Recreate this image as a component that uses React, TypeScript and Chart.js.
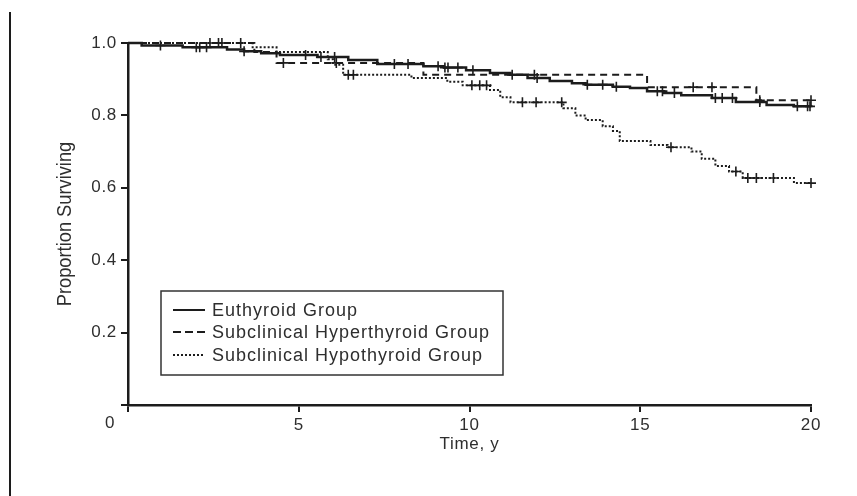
import React, { useEffect, useRef } from 'react';
import { Chart, registerables } from 'chart.js';
Chart.register(...registerables);

// Kaplan-Meier step curves: time (years) at which survival drops to value
const euTimes = [0, 0.4, 1.6, 2.9, 3.4, 3.9, 4.45, 5.55, 6.45, 7.3, 8.65, 9.25, 9.9, 10.6, 11.2, 11.7, 12.35, 13.0, 13.4, 14.2, 14.7, 15.2, 15.7, 16.2, 17.1, 17.8, 18.7, 19.5, 20];
const euSurv = [1.0, 0.993, 0.988, 0.982, 0.977, 0.972, 0.967, 0.961, 0.953, 0.942, 0.936, 0.932, 0.925, 0.917, 0.912, 0.903, 0.895, 0.889, 0.885, 0.879, 0.876, 0.867, 0.862, 0.856, 0.848, 0.837, 0.829, 0.825, 0.823];

const hyperTimes = [0, 3.7, 4.35, 8.65, 15.2, 18.4, 20];
const hyperSurv = [1.0, 0.975, 0.945, 0.912, 0.878, 0.842, 0.842];

const hypoTimes = [0, 3.65, 4.35, 5.85, 6.0, 6.3, 8.3, 9.35, 9.8, 10.6, 10.9, 11.2, 12.75, 13.1, 13.4, 13.9, 14.2, 14.4, 15.3, 15.8, 16.5, 16.8, 17.2, 17.6, 18.0, 19.5, 20];
const hypoSurv = [1.0, 0.988, 0.975, 0.955, 0.94, 0.912, 0.903, 0.893, 0.883, 0.87, 0.85, 0.836, 0.82, 0.8, 0.787, 0.77, 0.757, 0.729, 0.718, 0.712, 0.7, 0.68, 0.66, 0.645, 0.627, 0.613, 0.613];

// Censoring times (plotted as + marks on each curve)
const euCensored = [0.95, 2.0, 2.1, 2.3, 3.4, 5.2, 5.65, 6.05, 7.8, 8.2, 9.08, 9.28, 9.37, 9.66, 10.1, 11.25, 11.98, 13.45, 13.9, 14.3, 15.5, 15.65, 16.0, 17.2, 17.4, 17.7, 18.5, 19.6, 19.9, 19.97];
const hyperCensored = [4.55, 6.1, 11.9, 16.55, 17.1, 18.5, 20.0];
const hypoCensored = [2.4, 2.65, 2.75, 3.3, 6.45, 6.6, 10.07, 10.3, 10.5, 11.55, 11.95, 12.7, 15.9, 17.8, 18.15, 18.4, 18.9, 20.0];

const seriesNames = ['Euthyroid Group', 'Subclinical Hyperthyroid Group', 'Subclinical Hypothyroid Group'];
const xTicks = [0, 5, 10, 15, 20];
const yTicks = [0, 0.2, 0.4, 0.6, 0.8, 1.0];
const yTitle = 'Proportion Surviving';
const xTitle = 'Time, y';

const INK = '#1c1c1c';
const TEXT = '#2e2e2e';
const FONT = '"Liberation Sans", Arial, sans-serif';
const DASHES = [[], [7, 5], [2, 2]];
const WIDTHS = [2.5, 2, 2];

function stepAt(times: number[], vals: number[], t: number) {
  let v = vals[0];
  for (let i = 0; i < times.length; i++) if (times[i] <= t) v = vals[i];
  return v;
}

export default function App() {
  const ref = useRef<HTMLCanvasElement>(null);
  useEffect(() => {
    document.body.style.margin = '0';
    const pts = (ts: number[], vs: number[]) => ts.map((t, i) => ({ x: t, y: vs[i] }));
    const cens = (ct: number[], ts: number[], vs: number[]) => ct.map((t) => ({ x: t, y: stepAt(ts, vs, t) }));
    const curves = [
      [euTimes, euSurv, euCensored],
      [hyperTimes, hyperSurv, hyperCensored],
      [hypoTimes, hypoSurv, hypoCensored],
    ];
    const datasets: any[] = [];
    curves.forEach(([ts, vs], i) => {
      datasets.push({
        type: 'line', label: seriesNames[i], data: pts(ts as number[], vs as number[]),
        stepped: 'before', borderColor: INK, borderWidth: WIDTHS[i], borderDash: DASHES[i],
        pointRadius: 0, fill: false, tension: 0, clip: false,
      });
    });
    curves.forEach(([ts, vs, ct], i) => {
      datasets.push({
        type: 'scatter', label: seriesNames[i] + ' censored', data: cens(ct as number[], ts as number[], vs as number[]),
        pointStyle: 'cross', pointRadius: 5, borderColor: INK, borderWidth: 1.6, showLine: false, clip: false,
      });
    });

    const overlay = {
      id: 'overlay',
      beforeDraw(chart: any) {
        const c = chart.ctx;
        c.save();
        c.strokeStyle = INK; c.lineWidth = 2;
        c.beginPath(); c.moveTo(10, 12); c.lineTo(10, chart.height); c.stroke();
        c.restore();
        (c as any).letterSpacing = '0.7px';
      },
      afterDraw(chart: any) {
        const c = chart.ctx;
        const xs = chart.scales.x, ys = chart.scales.y;
        const ca = chart.chartArea;
        c.save();
        c.fillStyle = TEXT;
        (c as any).letterSpacing = '0.7px';
        c.font = '17px ' + FONT;
        c.textAlign = 'center'; c.textBaseline = 'middle';
        c.fillText('0', xs.getPixelForValue(0) - 18, ys.getPixelForValue(0) + 18);
        // y title (condensed face)
        c.save();
        (c as any).letterSpacing = '0px';
        c.translate(65, (ca.top + ca.bottom) / 2);
        c.rotate(-Math.PI / 2);
        c.scale(0.87, 1);
        c.font = '21px ' + FONT;
        c.fillText(yTitle, 0, 0);
        c.restore();
        // legend
        const L = ca.left + 33, T = ca.bottom - 114, W = 342, H = 84;
        c.fillStyle = '#ffffff';
        c.fillRect(L, T, W, H);
        c.strokeStyle = '#333'; c.lineWidth = 1.5; c.setLineDash([]);
        c.strokeRect(L, T, W, H);
        const rows = [19, 41, 64];
        const legDash = [[], [8, 4], [2, 2]];
        c.font = '18px ' + FONT;
        (c as any).letterSpacing = '1px';
        c.textAlign = 'left';
        rows.forEach((r, i) => {
          c.strokeStyle = INK; c.lineWidth = 2; c.setLineDash(legDash[i]);
          c.beginPath(); c.moveTo(L + 12, T + r); c.lineTo(L + 44, T + r); c.stroke();
          c.fillStyle = TEXT;
          c.fillText(seriesNames[i], L + 51, T + r + 1);
        });
        c.restore();
      },
    };

    const chart = new Chart(ref.current as HTMLCanvasElement, {
      data: { datasets },
      options: {
        animation: false,
        responsive: true,
        maintainAspectRatio: false,
        layout: { padding: { top: 43, right: 46, left: 0, bottom: 0 } },
        plugins: { legend: { display: false }, tooltip: { enabled: false } },
        scales: {
          x: {
            type: 'linear', min: 0, max: 20,
            afterBuildTicks: (s: any) => { s.ticks = xTicks.map((v) => ({ value: v })); },
            afterFit: (s: any) => { s.height = 91; },
            ticks: { callback: (v: any) => (v === 0 ? '' : String(v)), color: TEXT, font: { size: 17, family: FONT }, padding: 3, maxRotation: 0 },
            grid: { display: true, drawOnChartArea: false, drawTicks: true, tickLength: 7, color: INK, lineWidth: 2 },
            border: { display: true, color: INK, width: 2.5 },
            title: { display: true, text: xTitle, color: TEXT, font: { size: 17, family: FONT }, padding: { top: 0, bottom: 41 } },
          },
          y: {
            type: 'linear', min: 0, max: 1,
            afterBuildTicks: (s: any) => { s.ticks = yTicks.map((v) => ({ value: v })); },
            afterFit: (s: any) => { s.width = 128; },
            ticks: { callback: (v: any) => (v === 0 ? '' : Number(v).toFixed(1)), color: TEXT, font: { size: 17, family: FONT }, padding: 4 },
            grid: { display: true, drawOnChartArea: false, drawTicks: true, tickLength: 7, color: INK, lineWidth: 2 },
            border: { display: true, color: INK, width: 2.5 },
            title: { display: false },
          },
        },
      } as any,
      plugins: [overlay],
    });
    return () => chart.destroy();
  }, []);
  return (
    <div style={{ position: 'fixed', left: 0, top: 0, width: 857, height: 496, background: '#fff' }}>
      <canvas ref={ref} />
    </div>
  );
}
